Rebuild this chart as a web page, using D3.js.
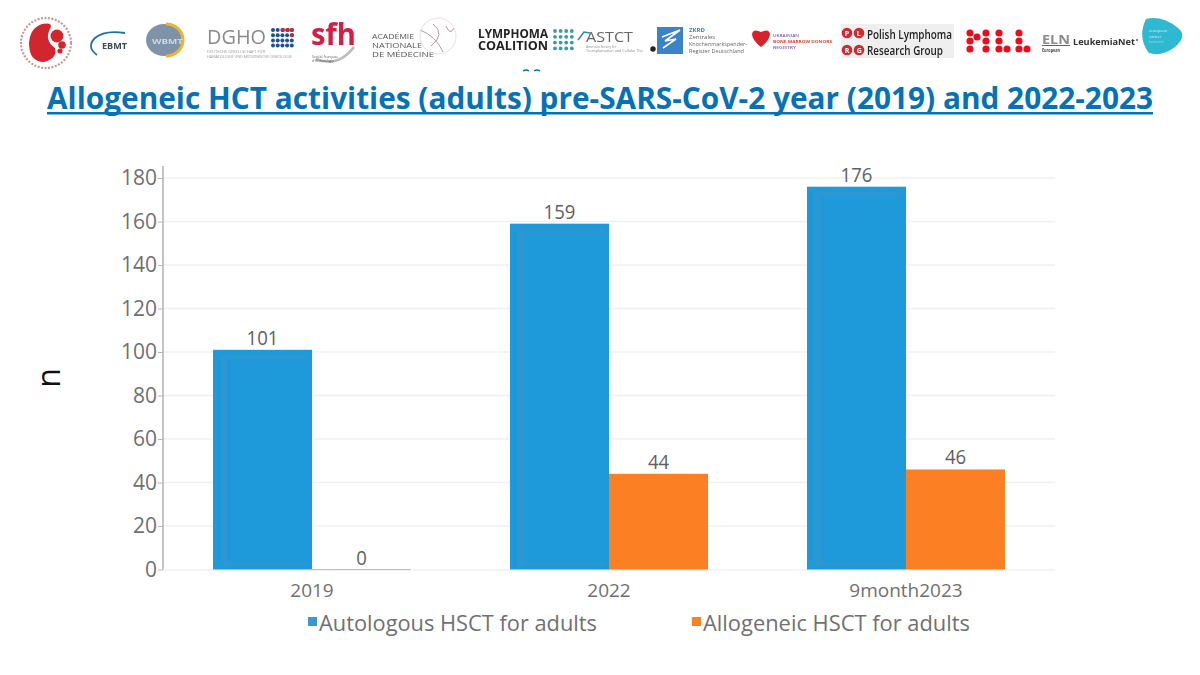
<!doctype html><html><head><meta charset="utf-8"><script src='https://cdn.jsdelivr.net/npm/d3@7'></script>
<style>
	html, body { margin: 0; padding: 0; background: #fff; }
	svg { display: block; }
	text { font-family: "Open Sans", sans-serif; }
</style></head><body>
<script>
	var categories = ["2019", "2022", "9month2023"];
	var seriesNames = ["Autologous HSCT for adults", "Allogeneic HSCT for adults"];
	var autologous = [101, 159, 176];
	var allogeneic = [0, 44, 46];
	var yTicks = [0, 20, 40, 60, 80, 100, 120, 140, 160, 180];
	var colors = ["#1e9ada", "#fd7f23"];

	var svg = d3.select("body").append("svg").attr("width", 1200).attr("height", 675);
	svg.append("defs").append("filter").attr("id", "soft").append("feGaussianBlur").attr("stdDeviation", 0.35);

	// title
	svg.append("text").attr("x", 47).attr("y", 109)
		.attr("textLength", 1106).attr("lengthAdjust", "spacingAndGlyphs")
		.style("font-size", "31px").style("font-weight", 700).attr("fill", "#0572b6")
		.text("Allogeneic HCT activities (adults) pre-SARS-CoV-2 year (2019) and 2022-2023");
	svg.append("rect").attr("x", 47).attr("y", 112).attr("width", 1106).attr("height", 2.5).attr("fill", "#0572b6");

	// scales
	var y = d3.scaleLinear().domain([0, 180]).range([569.5, 178]);
	var x0 = d3.scaleBand().domain(categories).range([163.5, 1054.5]).paddingInner(1 / 3).paddingOuter(1 / 6);
	var x1 = d3.scaleBand().domain([0, 1]).range([0, x0.bandwidth()]);

	// gridlines
	svg.append("g").selectAll("line").data(yTicks.slice(1)).enter().append("line")
		.attr("x1", 163).attr("x2", 1055)
		.attr("y1", function(d) { return y(d); }).attr("y2", function(d) { return y(d); })
		.attr("stroke", "#f0f0f0").attr("stroke-width", 1.5);

	// y axis
	var yAxis = svg.append("g").attr("transform", "translate(163,0)")
		.call(d3.axisLeft(y).tickValues(yTicks).tickSize(5).tickPadding(1));
	yAxis.select(".domain").remove();
	yAxis.append("line").attr("y1", 166).attr("y2", 569.5).attr("stroke", "#b5b5b5").attr("stroke-width", 1.6);
	yAxis.selectAll(".tick line").attr("stroke", "#b5b5b5");
	yAxis.selectAll("text").attr("fill", "#707070").style("font-size", "21px").style("font-family", "'Open Sans', sans-serif");

	// x axis
	var xAxis = svg.append("g").attr("transform", "translate(0,569.5)")
		.call(d3.axisBottom(x0).tickSize(0).tickPadding(14.5));
	xAxis.select(".domain").attr("stroke", "#e8e8e8");
	xAxis.selectAll("text").attr("fill", "#707070").style("font-size", "19px").style("font-family", "'Open Sans', sans-serif");

	// bars
	var rows = categories.map(function(c, i) { return { cat: c, values: [autologous[i], allogeneic[i]] }; });
	var group = svg.append("g").selectAll("g").data(rows).enter().append("g")
		.attr("transform", function(d) { return "translate(" + x0(d.cat) + ",0)"; });
	var bar = group.selectAll("g").data(function(d) { return d.values; }).enter().append("g");
	bar.append("rect")
		.attr("x", function(d, i) { return x1(i); })
		.attr("y", function(d) { return y(d); })
		.attr("width", x1.bandwidth())
		.attr("height", function(d) { return y(0) - y(d); })
		.attr("fill", function(d, i) { return colors[i]; });
	// the faint inner frame the picture shows in the blue bars
	var blue = bar.filter(function(d, i) { return i == 0; });
	blue.append("rect").attr("x", 8).attr("width", 6)
		.attr("y", function(d) { return y(d) + 5; })
		.attr("height", function(d) { return y(0) - y(d) - 9; })
		.attr("fill", "#2f97cf");
	blue.append("rect").attr("x", 8).attr("width", x1.bandwidth() - 12).attr("height", 4)
		.attr("y", function(d) { return y(d) + 5; })
		.attr("fill", "#2f97cf");
	blue.append("rect").attr("x", 8).attr("width", x1.bandwidth() - 12).attr("height", 3)
		.attr("y", y(0) - 7)
		.attr("fill", "#2f97cf");
	// a zero still leaves a thin line on the axis
	bar.filter(function(d) { return d == 0; }).append("line")
		.attr("x1", x1(1)).attr("x2", x1(1) + x1.bandwidth())
		.attr("y1", y(0)).attr("y2", y(0))
		.attr("stroke", colors[1]).attr("stroke-opacity", 0.6);
	bar.append("text")
		.attr("x", function(d, i) { return x1(i) + x1.bandwidth() / 2; })
		.attr("y", function(d) { return y(d) - 5; })
		.attr("text-anchor", "middle").attr("fill", "#606060").style("font-size", "20px")
		.attr("textLength", function(d) { return String(d).length * 10.6; }).attr("lengthAdjust", "spacingAndGlyphs")
		.text(function(d) { return d; });

	// y title
	svg.append("text").attr("transform", "translate(60,378) rotate(-90)").attr("text-anchor", "middle")
		.attr("fill", "#111").style("font-size", "32px").text("n");

	// legend
	var legendX = [308, 692];
	var legendLen = [278, 267];
	var legend = svg.append("g").selectAll("g").data(seriesNames).enter().append("g")
		.attr("transform", function(d, i) { return "translate(" + legendX[i] + ",0)"; });
	legend.append("rect").attr("y", 617).attr("width", 9).attr("height", 9)
		.attr("fill", function(d, i) { return i == 0 ? "#3a98cf" : colors[1]; });
	legend.append("text").attr("x", 11).attr("y", 631).attr("fill", "#707070")
		.attr("textLength", function(d, i) { return legendLen[i]; }).attr("lengthAdjust", "spacingAndGlyphs")
		.style("font-size", "22px").text(function(d) { return d; });

	// logo strip
	var logos = svg.append("g").attr("filter", "url(#soft)");
	function t(str, lx, ly, size, col, weight, len) {
		var s = logos.append("text").attr("x", lx).attr("y", ly).attr("fill", col || "#333")
			.style("font-size", size + "px").style("font-weight", weight || 400).text(str);
		if (len) s.attr("textLength", len).attr("lengthAdjust", "spacingAndGlyphs");
		return s;
	}
	function dots(pts, r, col) {
		logos.append("g").selectAll("circle").data(pts).enter().append("circle")
			.attr("cx", function(d) { return d[0]; }).attr("cy", function(d) { return d[1]; }).attr("r", r).attr("fill", col);
	}
	function gridPts(lx, ly, nx, ny, dx, dy) {
		return d3.cross(d3.range(nx), d3.range(ny)).map(function(p) { return [lx + p[0] * dx, ly + p[1] * dy]; });
	}
	function stroke(d, col, w) {
		logos.append("path").attr("d", d).attr("fill", "none").attr("stroke", col).attr("stroke-width", w);
	}

	// ASH
	logos.append("circle").attr("cx", 46).attr("cy", 43).attr("r", 25).attr("fill", "none").attr("stroke", "#c79a9a").attr("stroke-width", 2.2).attr("stroke-dasharray", "2 1.5");
	logos.append("path").attr("d", "M42 24 Q54 22 50 29 Q44 40 55 48 Q58 58 44 62 Q29 62 29 43 Q30 28 42 24 Z").attr("fill", "#d2282e");
	dots([[57, 36]], 6.5, "#d2282e");
	dots([[62, 45]], 3.8, "#d2282e");
	dots([[60, 51]], 2.6, "#d2282e");

	// EBMT
	stroke("M125 33 Q104 30 95 38 Q86 47 97 55", "#1b6fae", 1.8);
	t("EBMT", 102, 49, 8.5, "#3a4a5c", 700, 25);

	// WBMT
	logos.append("ellipse").attr("cx", 164).attr("cy", 40).attr("rx", 18).attr("ry", 16).attr("fill", "#7f93a8");
	stroke("M166 24 A17 16 0 0 1 166 56", "#efb32f", 3);
	t("WBMT", 152, 44, 7.5, "#cfd8e0", 700, 31);

	// DGHO
	t("DGHO", 207, 44, 20, "#8a8a8a", 400, 59);
	dots(gridPts(273, 30, 5, 4, 4.7, 5.2), 2, "#1b4f9c");
	dots([[283, 30], [288, 30], [292, 30], [292, 35]], 2, "#d5232b");
	t("DEUTSCHE GESELLSCHAFT FÜR", 207, 53, 3.4, "#999", 400, 58);
	t("HÄMATOLOGIE UND MEDIZINISCHE ONKOLOGIE", 207, 57.5, 3.4, "#999", 400, 85);

	// SFH
	t("sfh", 311, 45, 31, "#d81f43", 700, 45);
	stroke("M316 59 Q338 68 354 47", "#bbb", 2.5);
	t("Société Française", 312, 57.5, 3, "#555", 400, 26);
	t("d'Hématologie", 312, 61.5, 3, "#555", 400, 22);

	// Academie
	t("ACADÉMIE", 372, 39, 6.5, "#555", 400, 42);
	t("NATIONALE", 372, 48, 6.5, "#555", 400, 50);
	t("DE MÉDECINE", 372, 57, 6.5, "#555", 400, 62);
	stroke("M420 30 Q436 36 443 52 M433 24 Q446 34 431 46 M446 26 Q450 36 454 28", "#b695a8", 1);
	logos.append("circle").attr("cx", 438).attr("cy", 36).attr("r", 18).attr("fill", "none").attr("stroke", "#ddd3d8").attr("stroke-width", 0.7);

	// Lymphoma Coalition
	t("LYMPHOMA", 478, 38, 13, "#222", 700, 70);
	t("COALITION", 478, 50, 13, "#222", 700, 70);
	dots(gridPts(555, 31, 4, 4, 5.6, 5.8), 1.9, "#3a9aa8");

	// ASTCT
	t("ASTCT", 586, 42, 14, "#666", 400, 47);
	stroke("M578 40 L584 32 L590 33", "#2a8fb5", 1.6);
	t("American Society for", 586, 48, 3, "#888", 400, 30);
	t("Transplantation and Cellular The", 586, 52, 3, "#888", 400, 57);

	// ZKRD
	logos.append("rect").attr("x", 657).attr("y", 27).attr("width", 26).attr("height", 27).attr("fill", "#3a82c9");
	stroke("M662 37 L680 30 L665 41 L676 39 L663 48", "#fff", 1.6);
	dots([[653, 49]], 2.7, "#222");
	t("ZKRD", 689, 32, 6, "#3a82c9", 700);
	t("Zentrales", 689, 39, 6, "#666");
	t("Knochenmarkspender-", 689, 46, 6, "#666", 400, 58);
	t("Register Deutschland", 689, 53, 6, "#666", 400, 55);

	// Ukrainian registry
	logos.append("path").attr("d", "M761 47 Q752 40 752 34 Q753 28 761 32 Q769 28 770 34 Q770 40 761 47 Z").attr("fill", "#d8232a");
	t("UKRAINIAN", 773, 37, 4, "#7b5aa6", 600, 26);
	t("BONE MARROW DONORS", 773, 43, 4, "#e4432e", 700, 59);
	t("REGISTRY", 773, 49, 4, "#7b5aa6", 600, 23);

	// PLRG
	logos.append("rect").attr("x", 841).attr("y", 24).attr("width", 113).attr("height", 34).attr("fill", "#efefef");
	dots([[847, 33], [859, 33], [847, 50], [859, 50]], 5.3, "#cf2a2e");
	[["P", 847, 33], ["L", 859, 33], ["R", 847, 50], ["G", 859, 50]].forEach(function(p) {
		t(p[0], p[1] - 2.3, p[2] + 2.5, 7, "#fff", 700);
	});
	t("Polish Lymphoma", 867, 39, 12.5, "#222", 600, 85);
	t("Research Group", 867, 55, 12.5, "#222", 600, 76);

	// MLL
	dots([[970, 33], [970, 41], [970, 49], [977, 37], [986, 33], [986, 41], [986, 49],
		[999, 33], [999, 41], [999, 49], [1007, 49],
		[1019, 33], [1019, 41], [1019, 49], [1027, 49]], 3.6, "#e8101a");

	// ELN
	t("ELN", 1042, 44, 12, "#8c8c8c", 700, 28);
	logos.append("rect").attr("x", 1042).attr("y", 45).attr("width", 28).attr("height", 1).attr("fill", "#c33");
	t("European", 1042, 52, 5, "#444", 700, 18);
	t("LeukemiaNet", 1073, 45, 9, "#333", 700, 62);
	dots([[1137, 40]], 1, "#d5232b");

	// ECA
	logos.append("path").attr("d", "M1146 19 Q1162 15 1178 28 Q1188 36 1175 47 Q1162 57 1149 53 Q1137 38 1146 19 Z").attr("fill", "#2fb8d2");
	t("european", 1149, 32, 4, "#d8f2f7");
	t("cancer", 1149, 38, 4, "#d8f2f7");
	t("leukemia", 1149, 43, 3.6, "#8fdbe8");

	// stray bit of clipped text above the title
	stroke("M523 71 Q526 69 529 71 M534 71 Q537 69 540 71", "#0572b6", 1.4);
</script>
</body></html>
